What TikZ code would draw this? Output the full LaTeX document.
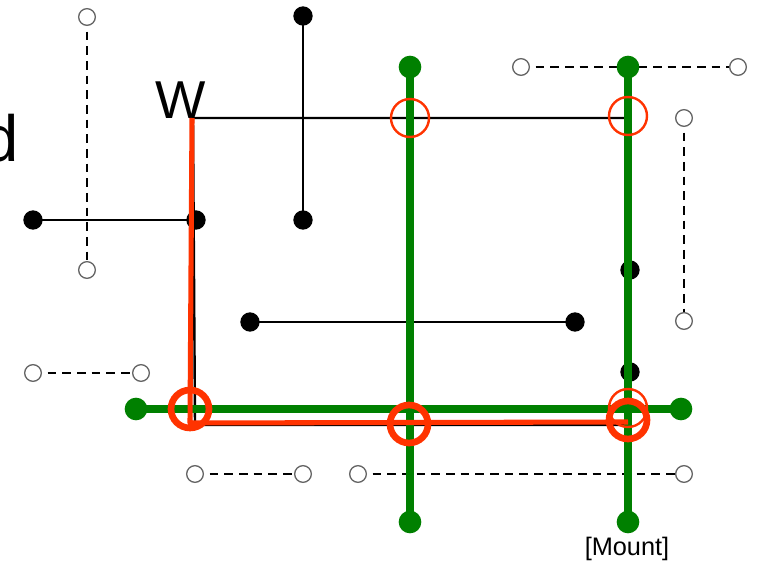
\documentclass[tikz,border=0pt]{standalone}
\usepackage{fontspec}
\setmainfont{Liberation Sans}
\definecolor{gr}{RGB}{0,128,0}
\definecolor{rd}{RGB}{255,51,0}
\begin{document}
\begin{tikzpicture}[x=0.75pt,y=-0.75pt,
  bdot/.style={circle,fill=black,inner sep=0pt,minimum size=14.5pt},
  odot/.style={circle,draw=black!60,fill=white,line width=1pt,inner sep=0pt,minimum size=12.5pt},
  gdot/.style={circle,fill=gr,inner sep=0pt,minimum size=17pt},
  bline/.style={black,line width=1.8pt},
  dline/.style={black,line width=2.1pt,dash pattern=on 6.5pt off 4.5pt},
  gline/.style={gr,line width=6pt},
  rline/.style={rd,line width=3.8pt,line join=round},
  rthick/.style={circle,draw=rd,line width=5pt,inner sep=0pt,minimum size=28.5pt},
  rthin/.style={circle,draw=rd,line width=1.8pt,inner sep=0pt,minimum size=28.5pt}]
\useasboundingbox (0,0) rectangle (758,563);
\clip (0,0) rectangle (758,563);
% coordinates
\coordinate (k1) at (628,118); \coordinate (k2) at (193,118);
\coordinate (k3) at (195,425); \coordinate (k4) at (628,425);
\coordinate (s1a) at (303,16);  \coordinate (s1b) at (303,220);
\coordinate (s2a) at (33,220);  \coordinate (s2b) at (196,220);
\coordinate (s3a) at (250,322); \coordinate (s3b) at (575,322);
\coordinate (s4a) at (630,270); \coordinate (s4b) at (630,372);
\coordinate (d1a) at (87,17);   \coordinate (d1b) at (87,270);
\coordinate (d2a) at (521,67);  \coordinate (d2b) at (738,67);
\coordinate (d3a) at (684,118); \coordinate (d3b) at (684,321);
\coordinate (d4a) at (33,373);  \coordinate (d4b) at (141,373);
\coordinate (d5a) at (195,474); \coordinate (d5b) at (303,474);
\coordinate (d6a) at (358,474); \coordinate (d6b) at (684,474);
\coordinate (g1a) at (410,67);  \coordinate (g1b) at (410,522);
\coordinate (g2a) at (628,67);  \coordinate (g2b) at (628,522);
\coordinate (g3a) at (136,409); \coordinate (g3b) at (681,409);
\coordinate (r1) at (192,118);  \coordinate (r2) at (190,423); \coordinate (r3) at (628,422);
% texts
\node[font=\fontsize{49}{49}\selectfont,anchor=base east,inner sep=0pt] (dtext) at (19,162) {d};
\node[font=\fontsize{40}{40}\selectfont,anchor=base,inner sep=0pt] (wtext) at (181,119) {W};
\node[font=\fontsize{19}{19}\selectfont,anchor=base,inner sep=0pt] (mount) at (627,555) {[Mount]};
% black lines
\draw[bline] (k1) -- (k2) -- (k3) -- (k4);
\draw[bline] (s1a) -- (s1b);
\draw[bline] (s2a) -- (s2b);
\draw[bline] (s3a) -- (s3b);
\draw[bline] (s4a) -- (s4b);
% dashed lines
\draw[dline] (d1a) -- (d1b);
\draw[dline] (d2a) -- (d2b);
\draw[dline] (d3a) -- (d3b);
\draw[dline] (d4a) -- (d4b);
\draw[dline] (d5a) -- (d5b);
\draw[dline] (d6a) -- (d6b);
% dots
\foreach \p in {s1a,s1b,s2a,s2b,s3a,s3b,s4a,s4b}
  \node[bdot] (n-\p) at (\p) {};
\foreach \p in {d1a,d1b,d2a,d2b,d3a,d3b,d4a,d4b,d5a,d5b,d6a,d6b}
  \node[odot] (n-\p) at (\p) {};
% green
\draw[gline] (g1a) -- (g1b);
\draw[gline] (g2a) -- (g2b);
\draw[gline] (g3a) -- (g3b);
\foreach \p in {g1a,g1b,g2a,g2b,g3a,g3b}
  \node[gdot] (n-\p) at (\p) {};
% red
\node[rthin] (t1) at (410,118) {};
\node[rthin] (t2) at (628,116) {};
\node[rthin] (t3) at (628,408) {};
\draw[rline] (r1) -- (r2) -- (r3);
\node[rthick] (c1) at (190,409) {};
\node[rthick] (c2) at (409,424) {};
\node[rthick] (c3) at (628,420) {};
\end{tikzpicture}
\end{document}
